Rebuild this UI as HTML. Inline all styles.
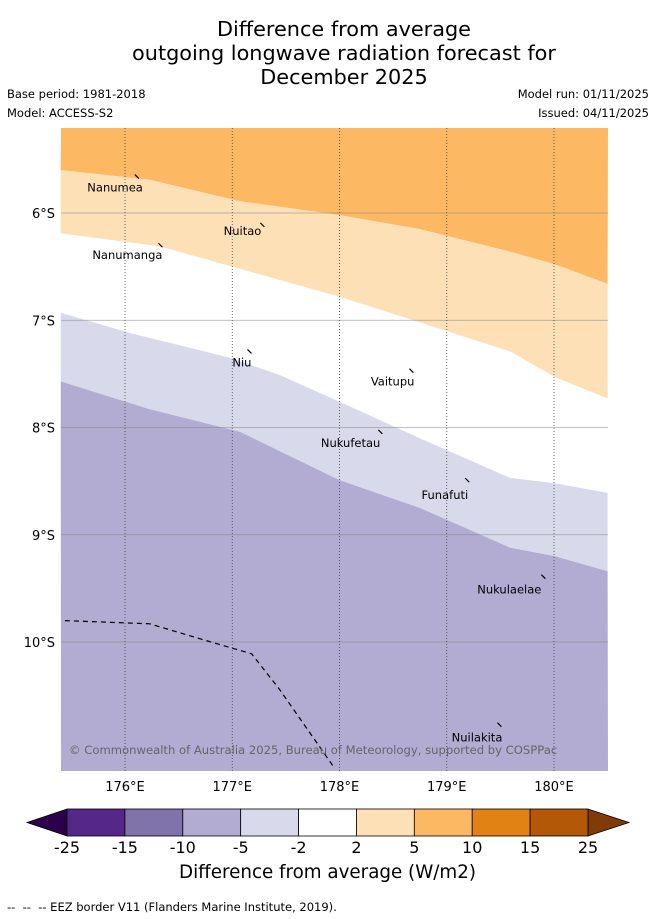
<!DOCTYPE html>
<html><head><meta charset="utf-8"><style>
body{margin:0;background:#fff;font-family:"DejaVu Sans",sans-serif;}
#wrap{position:relative;width:655px;height:919px;overflow:hidden;}
.t{position:absolute;white-space:nowrap;color:#000;}
</style></head><body>
<div id="wrap">
<div class="t" style="left:0;width:688px;top:17px;text-align:center;font-size:20.8px;line-height:24px;">Difference from average<br>outgoing longwave radiation forecast for<br>December 2025</div>
<div class="t" style="left:7px;top:87px;font-size:11.5px;">Base period: 1981-2018</div>
<div class="t" style="left:7px;top:106px;font-size:11.5px;">Model: ACCESS-S2</div>
<div class="t" style="right:6px;top:87px;font-size:11.5px;">Model run: 01/11/2025</div>
<div class="t" style="right:6px;top:106px;font-size:11.5px;">Issued: 04/11/2025</div>
<svg id="map" width="655" height="919" style="position:absolute;left:0;top:0;font-family:'DejaVu Sans',sans-serif;"></svg>
<div class="t" style="left:0;width:655px;top:862px;text-align:center;font-size:18.3px;">Difference from average (W/m2)</div>
<div class="t" style="left:7px;top:900px;font-size:11.5px;">-- &nbsp;-- &nbsp;-- EEZ border V11 (Flanders Marine Institute, 2019).</div>
</div>
<script>
const lonTicks=[176,177,178,179,180];
const latTicks=[6,7,8,9,10];
const bound5=[[175.4,5.6],[176.23,5.69],[177.07,5.89],[178.0,6.02],[178.75,6.15],[179.59,6.36],[180.01,6.48],[180.5,6.66]];
const bound2=[[175.4,6.19],[176.32,6.31],[177.07,6.52],[178.0,6.78],[178.75,7.02],[179.59,7.29],[180.01,7.53],[180.5,7.73]];
const boundM2=[[175.4,6.93],[176.05,7.12],[176.98,7.35],[177.44,7.51],[178.0,7.76],[178.75,8.1],[179.59,8.47],[180.01,8.52],[180.5,8.61]];
const boundM5=[[175.4,7.57],[176.23,7.83],[177.07,8.04],[178.0,8.49],[178.75,8.75],[179.59,9.12],[180.01,9.2],[180.5,9.34]];
const eez=[[175.44,9.8],[176.23,9.83],[176.7,9.97],[177.18,10.11],[177.44,10.44],[177.95,11.17]];
const islandNames=["Nanumea","Nuitao","Nanumanga","Niu","Vaitupu","Nukufetau","Funafuti","Nukulaelae","Nuilakita"];
const islandLon=[176.12,177.29,176.34,177.17,178.68,178.39,179.2,179.91,179.5];
const islandLat=[5.67,6.12,6.31,7.30,7.48,8.05,8.5,9.40,10.78];
const labelOff=[[5,14],[-2,9],[1,13],[1,14],[2,14],[-1,14],[0,18],[-3,16],[2,16]];
const cbLabels=["-25","-15","-10","-5","-2","2","5","10","15","25"];
const cbColors=["#542788","#8073ac","#b2abd2","#d8daeb","#ffffff","#fee0b6","#fdb863","#e08214","#b35806"];
const L=61,R=608,T=128,B=771;
const X=lon=>125+(lon-176)*107.25;
const Y=lat=>213+(lat-6)*107.25;
const svg=document.getElementById('map');
const NS='http://www.w3.org/2000/svg';
function mk(tag,attrs){const e=document.createElementNS(NS,tag);for(const k in attrs)e.setAttribute(k,attrs[k]);svg.appendChild(e);return e;}
function pts(arr){return arr.map(p=>X(p[0]).toFixed(1)+','+Y(p[1]).toFixed(1)).join(' ');}
function region(top,bot,color,name){
  let a=top?pts(top):L+','+T+' '+R+','+T;
  let b=bot?pts(bot.slice().reverse()):R+','+B+' '+L+','+B;
  const p=mk('polygon',{points:a+' '+b,fill:color});
  
  
}
mk('rect',{x:L,y:T,width:R-L,height:B-T,fill:'#fff'});
region(null,bound5,'#fdb863','region-5-to-10');
region(bound5,bound2,'#fee0b6','region-2-to-5');
region(boundM2,boundM5,'#d8daeb','region-minus2-to-minus5');
region(boundM5,null,'#b2abd2','region-minus5-to-minus10');
latTicks.forEach(v=>{
  const l=mk('line',{x1:L,x2:R,y1:Y(v),y2:Y(v),stroke:'#888','stroke-width':0.8,'stroke-opacity':0.7});
  
  
  const t=mk('text',{x:55,y:Y(v)+5,'text-anchor':'end','font-size':13});
  t.textContent=v+'°S';
  
  
});
lonTicks.forEach(v=>{
  const l=mk('line',{x1:X(v),x2:X(v),y1:T,y2:B,stroke:'#444','stroke-width':0.8,'stroke-dasharray':'1,2'});
  
  
  const t=mk('text',{x:X(v),y:791,'text-anchor':'middle','font-size':13});
  t.textContent=v+'°E';
  
  
});
const e=mk('polyline',{points:pts(eez),fill:'none',stroke:'#000','stroke-width':1.2,'stroke-dasharray':'5,4'});


islandNames.forEach((n,i)=>{
  const x=X(islandLon[i]),y=Y(islandLat[i]);
  const m=mk('path',{d:`M${x-3},${y-3} L${x+1},${y+1}`,stroke:'#000','stroke-width':1.2,fill:'none'});
  
  
  const t=mk('text',{x:x+labelOff[i][0],y:y+labelOff[i][1],'font-size':11.5,'text-anchor':'end'});
  t.textContent=n;
  
  
});
const c=mk('text',{x:69,y:754,'font-size':11.6,fill:'#666'});
c.textContent='© Commonwealth of Australia 2025, Bureau of Meteorology, supported by COSPPac';


const cx0=67,cx1=588,cy0=809,cy1=836,cw=(cx1-cx0)/cbColors.length;
const lt=mk('polygon',{points:`27,822.5 ${cx0},${cy0} ${cx0},${cy1}`,fill:'#2d004b',stroke:'#000','stroke-width':0.8});


const rt=mk('polygon',{points:`629,822.5 ${cx1},${cy0} ${cx1},${cy1}`,fill:'#7f3b08',stroke:'#000','stroke-width':0.8});


cbColors.forEach((col,i)=>{
  const r=mk('rect',{x:cx0+i*cw,y:cy0,width:cw,height:cy1-cy0,fill:col,stroke:'#000','stroke-width':0.8});
  
  
});
cbLabels.forEach((s,i)=>{
  const t=mk('text',{x:cx0+i*cw,y:853,'text-anchor':'middle','font-size':16});
  t.textContent=s;
  
  
});
</script>
</body></html>
